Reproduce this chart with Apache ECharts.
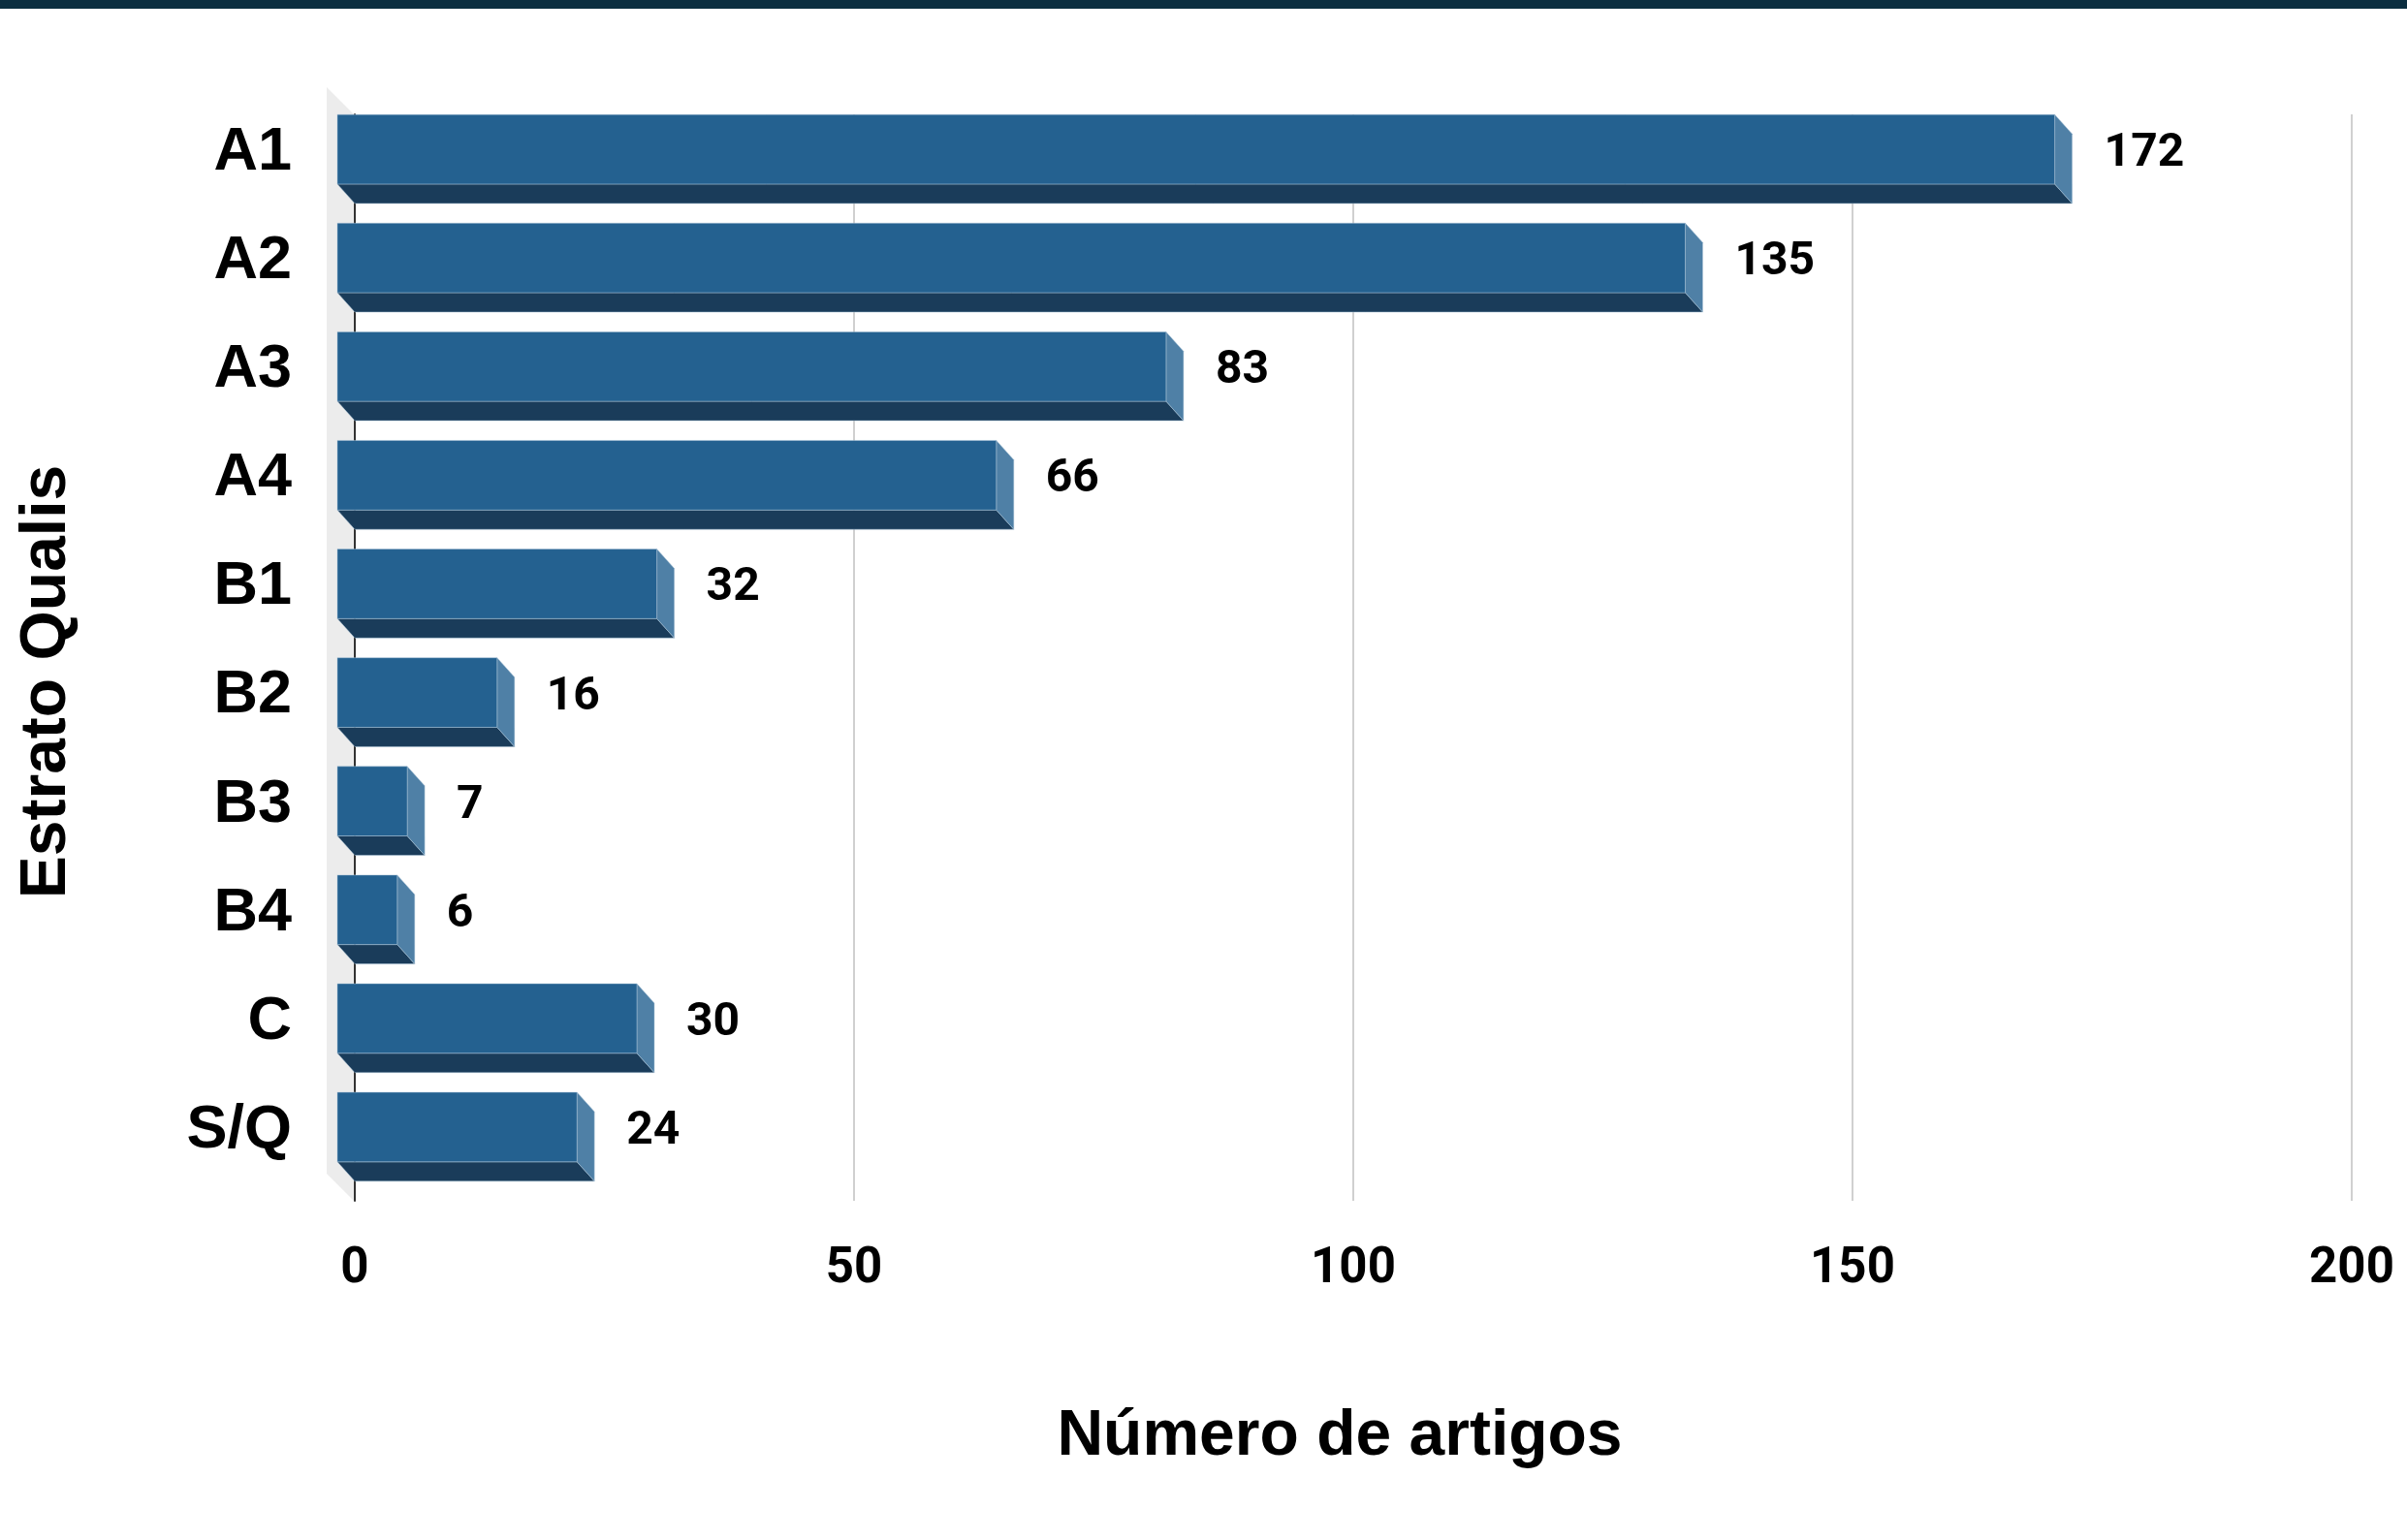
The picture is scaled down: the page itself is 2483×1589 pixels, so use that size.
<!DOCTYPE html>
<html>
<head>
<meta charset="utf-8">
<script src="https://cdn.jsdelivr.net/npm/echarts@6/dist/echarts.min.js"></script>
<style>
html,body{margin:0;padding:0;background:#fff;}
#c{width:2483px;height:1589px;}
</style>
</head>
<body>
<div id="c"></div>
<script>
var categories = ['A1', 'A2', 'A3', 'A4', 'B1', 'B2', 'B3', 'B4', 'C', 'S/Q'];
var articleCounts = [172, 135, 83, 66, 32, 16, 7, 6, 30, 24];
var xTicks = [0, 50, 100, 150, 200];

var DEPTH_X = -18, DEPTH_Y = -20;
var BAR_RATIO = 0.64;

var chart = echarts.init(document.getElementById('c'), null, {renderer: 'canvas'});

var barData = articleCounts.map(function (v, i) { return [v, i]; });

function renderBar(params, api) {
  var v = api.value(0), c = api.value(1);
  var p = api.coord([v, c]);
  var p0 = api.coord([0, c]);
  var band = api.size([0, 1])[1];
  var h = band * BAR_RATIO;
  var yT = p[1] - h / 2, yB = p[1] + h / 2;
  var xb = p[0], x0 = p0[0];
  var dx = DEPTH_X, dy = DEPTH_Y;
  return {
    type: 'group',
    children: [
      {type: 'polygon', shape: {points: [[x0 + dx, yB + dy], [xb + dx, yB + dy], [xb, yB], [x0, yB]]},
        style: {fill: '#1a3c5a', stroke: 'rgba(170,195,215,0.5)', lineWidth: 1}},
      {type: 'polygon', shape: {points: [[xb + dx, yT + dy], [xb, yT], [xb, yB], [xb + dx, yB + dy]]},
        style: {fill: '#4f80a6', stroke: 'rgba(170,195,215,0.5)', lineWidth: 1}},
      {type: 'rect', shape: {x: x0 + dx, y: yT + dy, width: xb - x0, height: h},
        style: {fill: '#246190', stroke: 'rgba(170,195,215,0.5)', lineWidth: 1}},
      {type: 'text', x: xb + 33, y: p[1] + dy + 5,
        style: {text: String(v), fill: '#000', font: 'bold 48px Roboto', verticalAlign: 'middle', align: 'left'}}
    ]
  };
}

function renderWall(params, api) {
  var cs = params.coordSys;
  var x = cs.x - 1, y = cs.y, hgt = cs.height;
  return {
    type: 'polygon',
    shape: {points: [[x, y], [x - 28, y - 28], [x - 28, y + hgt - 28], [x, y + hgt]]},
    style: {fill: '#ececec'}
  };
}

var option = {
  backgroundColor: '#ffffff',
  animation: false,
  graphic: [
    {type: 'rect', left: 0, top: 0, shape: {width: 2483, height: 9}, style: {fill: '#0b2e40'}}
  ],
  grid: {left: 366, right: 57, top: 118, bottom: 350, containLabel: false},
  xAxis: {
    type: 'value', min: 0, max: 200, interval: 50,
    name: 'Número de artigos', nameLocation: 'middle', nameGap: 211,
    nameTextStyle: {fontFamily: 'Liberation Sans', fontWeight: 'bold', fontSize: 66, color: '#000', padding: [0, 28, 0, 0]},
    axisLine: {show: false}, axisTick: {show: false},
    axisLabel: {fontFamily: 'Roboto', fontWeight: 'bold', fontSize: 51, color: '#000', margin: 46,
      formatter: function (v) { return xTicks.indexOf(v) >= 0 ? String(v) : ''; }},
    splitLine: {show: true, lineStyle: {color: '#d0d0d0', width: 2}}
  },
  yAxis: {
    type: 'category', data: categories, inverse: true,
    name: 'Estrato Qualis', nameLocation: 'middle', nameGap: 284, nameRotate: 90,
    nameTextStyle: {fontFamily: 'Liberation Sans', fontWeight: 'bold', fontSize: 66, color: '#000', padding: [0, 50, 0, 0]},
    axisLine: {show: true, lineStyle: {color: '#333', width: 2}},
    axisTick: {show: false},
    axisLabel: {fontFamily: 'Liberation Sans', fontWeight: 'bold', fontSize: 63, color: '#000', margin: 65,
      verticalAlign: 'bottom', lineHeight: 33},
    splitLine: {show: false}
  },
  series: [
    {type: 'custom', name: 'wall', renderItem: renderWall, data: [[0, 0]], encode: {x: 0, y: 1}, silent: true, z: 1},
    {type: 'custom', name: 'Número de artigos', renderItem: renderBar, data: barData, encode: {x: 0, y: 1}, z: 3}
  ]
};
chart.setOption(option);
</script>
</body>
</html>
